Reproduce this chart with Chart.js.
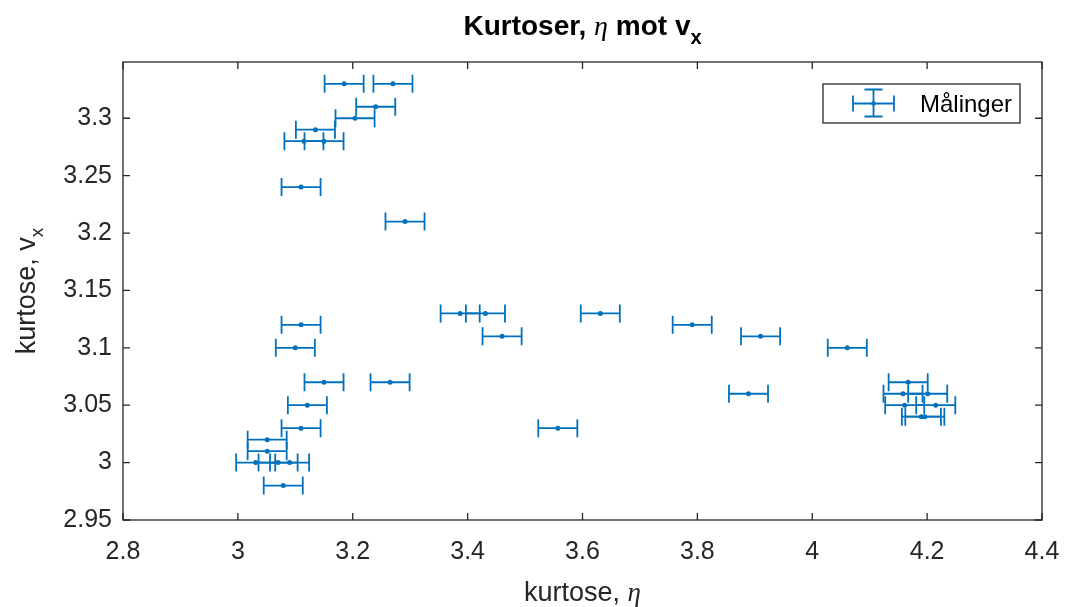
<!DOCTYPE html>
<html>
<head>
<meta charset="utf-8">
<script src="https://cdn.jsdelivr.net/npm/chart.js@4.4.1/dist/chart.umd.min.js"></script>
<style>
html, body { margin: 0; padding: 0; background: #fff; }
#wrap { width: 1065px; height: 607px; position: relative; }
</style>
</head>
<body>
<div id="wrap"><canvas id="chartCanvas"></canvas></div>
<script>
// measured kurtosis pairs (eta on x, v_x on y)
const etaValues = [3.185, 3.270, 3.240, 3.204, 3.135, 3.115, 3.150, 3.110, 3.291,
    3.387, 3.431, 3.631, 3.110, 3.791, 3.460, 3.910, 3.100, 4.061,
    3.150, 3.265, 4.167, 3.889, 4.158, 4.201, 3.121, 4.161, 4.215,
    4.190, 4.196, 3.110, 3.557, 3.051, 3.051, 3.031, 3.070, 3.090, 3.079];
const vxValues = [3.33, 3.33, 3.31, 3.30, 3.29, 3.28, 3.28, 3.24, 3.21,
    3.13, 3.13, 3.13, 3.12, 3.12, 3.11, 3.11, 3.10, 3.10,
    3.07, 3.07, 3.07, 3.06, 3.06, 3.06, 3.05, 3.05, 3.05,
    3.04, 3.04, 3.03, 3.03, 3.02, 3.01, 3.00, 3.00, 3.00, 2.98];
const etaError = 0.034; // same horizontal error for every point

const xTicks = [2.8, 3, 3.2, 3.4, 3.6, 3.8, 4, 4.2, 4.4];
const yTicks = [2.95, 3, 3.05, 3.1, 3.15, 3.2, 3.25, 3.3];
const legendLabel = "Målinger";

const blue = "#0072BD";
const axisColor = "#262626";
const sans = '"Liberation Sans", Arial, Helvetica, sans-serif';
const serif = '"Liberation Serif", "DejaVu Serif", serif';

const points = etaValues.map((x, i) => ({ x: x, y: vxValues[i] }));

// draw a row of text pieces (different fonts / subscripts) centred on x
function drawRich(ctx, parts, cx, y) {
    let total = 0;
    parts.forEach(p => { ctx.font = p.font; total += ctx.measureText(p.text).width; });
    let x = cx - total / 2;
    ctx.textAlign = "left";
    ctx.textBaseline = "alphabetic";
    parts.forEach(p => {
        ctx.font = p.font;
        ctx.fillText(p.text, x, y + (p.dy || 0));
        x += ctx.measureText(p.text).width;
    });
}

const matlabLook = {
    id: "matlabLook",
    beforeDatasetsDraw(chart) {
        const ctx = chart.ctx;
        const xs = chart.scales.x, ys = chart.scales.y;
        ctx.save();
        ctx.strokeStyle = blue;
        ctx.lineWidth = 1.8;
        points.forEach(p => {
            const py = ys.getPixelForValue(p.y);
            const lx = xs.getPixelForValue(p.x - etaError);
            const rx = xs.getPixelForValue(p.x + etaError);
            ctx.beginPath();
            ctx.moveTo(lx, py); ctx.lineTo(rx, py);
            ctx.moveTo(lx, py - 9); ctx.lineTo(lx, py + 9);
            ctx.moveTo(rx, py - 9); ctx.lineTo(rx, py + 9);
            ctx.stroke();
        });
        ctx.restore();
    },
    afterDraw(chart) {
        const ctx = chart.ctx;
        const a = chart.chartArea;
        const xs = chart.scales.x, ys = chart.scales.y;
        ctx.save();
        // box and inward ticks
        ctx.strokeStyle = axisColor;
        ctx.lineWidth = 1.3;
        ctx.strokeRect(a.left, a.top, a.right - a.left, a.bottom - a.top);
        ctx.beginPath();
        xTicks.forEach(v => {
            const px = xs.getPixelForValue(v);
            ctx.moveTo(px, a.bottom); ctx.lineTo(px, a.bottom - 7);
            ctx.moveTo(px, a.top); ctx.lineTo(px, a.top + 7);
        });
        yTicks.forEach(v => {
            const py = ys.getPixelForValue(v);
            ctx.moveTo(a.left, py); ctx.lineTo(a.left + 7, py);
            ctx.moveTo(a.right, py); ctx.lineTo(a.right - 7, py);
        });
        ctx.stroke();

        // title
        ctx.fillStyle = "#000";
        drawRich(ctx, [
            { text: "Kurtoser, ", font: "bold 28px " + sans },
            { text: "η", font: "italic 28px " + serif },
            { text: " mot v", font: "bold 28px " + sans },
            { text: "x", font: "bold 20px " + sans, dy: 9 }
        ], (a.left + a.right) / 2, 35);

        // axis labels
        ctx.fillStyle = axisColor;
        drawRich(ctx, [
            { text: "kurtose, ", font: "27px " + sans },
            { text: "η", font: "italic 27px " + serif }
        ], (a.left + a.right) / 2, 601);

        ctx.save();
        ctx.translate(35, (a.top + a.bottom) / 2);
        ctx.rotate(-Math.PI / 2);
        drawRich(ctx, [
            { text: "kurtose, v", font: "27px " + sans },
            { text: "x", font: "19px " + sans, dy: 8 }
        ], 0, 0);
        ctx.restore();

        // legend
        const lx = 823, ly = 84, lw = 197, lh = 39;
        ctx.fillStyle = "#fff";
        ctx.fillRect(lx, ly, lw, lh);
        ctx.strokeStyle = axisColor;
        ctx.lineWidth = 1.3;
        ctx.strokeRect(lx, ly, lw, lh);
        const cx = 873.5, cy = 103.5;
        ctx.strokeStyle = blue;
        ctx.lineWidth = 1.8;
        ctx.beginPath();
        ctx.moveTo(853, cy); ctx.lineTo(894, cy);
        ctx.moveTo(853, cy - 8); ctx.lineTo(853, cy + 8);
        ctx.moveTo(894, cy - 8); ctx.lineTo(894, cy + 8);
        ctx.moveTo(cx, 89.5); ctx.lineTo(cx, 116.5);
        ctx.moveTo(cx - 9, 89.5); ctx.lineTo(cx + 9, 89.5);
        ctx.moveTo(cx - 9, 116.5); ctx.lineTo(cx + 9, 116.5);
        ctx.stroke();
        ctx.fillStyle = blue;
        ctx.beginPath();
        ctx.arc(cx, cy, 2.3, 0, Math.PI * 2);
        ctx.fill();
        ctx.fillStyle = "#000";
        ctx.font = "24px " + sans;
        ctx.textAlign = "left";
        ctx.textBaseline = "alphabetic";
        ctx.fillText(legendLabel, 920, 112);
        ctx.restore();
    }
};

Chart.defaults.font.family = sans;

const ctx = document.getElementById("chartCanvas").getContext("2d");
new Chart(ctx, {
    type: "scatter",
    data: {
        datasets: [{
            label: legendLabel,
            data: points,
            backgroundColor: blue,
            borderColor: blue,
            pointRadius: 2.5,
            pointBorderWidth: 0,
            showLine: false
        }]
    },
    options: {
        responsive: true,
        maintainAspectRatio: false,
        animation: false,
        layout: { padding: { left: 0, right: 23, top: 62, bottom: 0 } },
        plugins: {
            legend: { display: false },
            title: { display: false },
            tooltip: { enabled: false }
        },
        scales: {
            x: {
                type: "linear",
                min: 2.8,
                max: 4.4,
                afterBuildTicks: s => { s.ticks = xTicks.map(v => ({ value: v })); },
                afterFit: s => { s.height = 87; s.paddingLeft = 0; s.paddingRight = 0; },
                grid: { display: false, drawTicks: false },
                border: { display: false },
                ticks: {
                    color: axisColor,
                    font: { size: 25 },
                    padding: 17,
                    maxRotation: 0,
                    callback: v => String(+v.toFixed(2))
                }
            },
            y: {
                type: "linear",
                min: 2.95,
                max: 3.349,
                afterBuildTicks: s => { s.ticks = yTicks.map(v => ({ value: v })); },
                afterFit: s => { s.width = 123; s.paddingTop = 0; s.paddingBottom = 0; },
                grid: { display: false, drawTicks: false },
                border: { display: false },
                ticks: {
                    color: axisColor,
                    font: { size: 25 },
                    padding: 11,
                    callback: v => String(+v.toFixed(2))
                }
            }
        }
    },
    plugins: [matlabLook]
});
</script>
</body>
</html>
